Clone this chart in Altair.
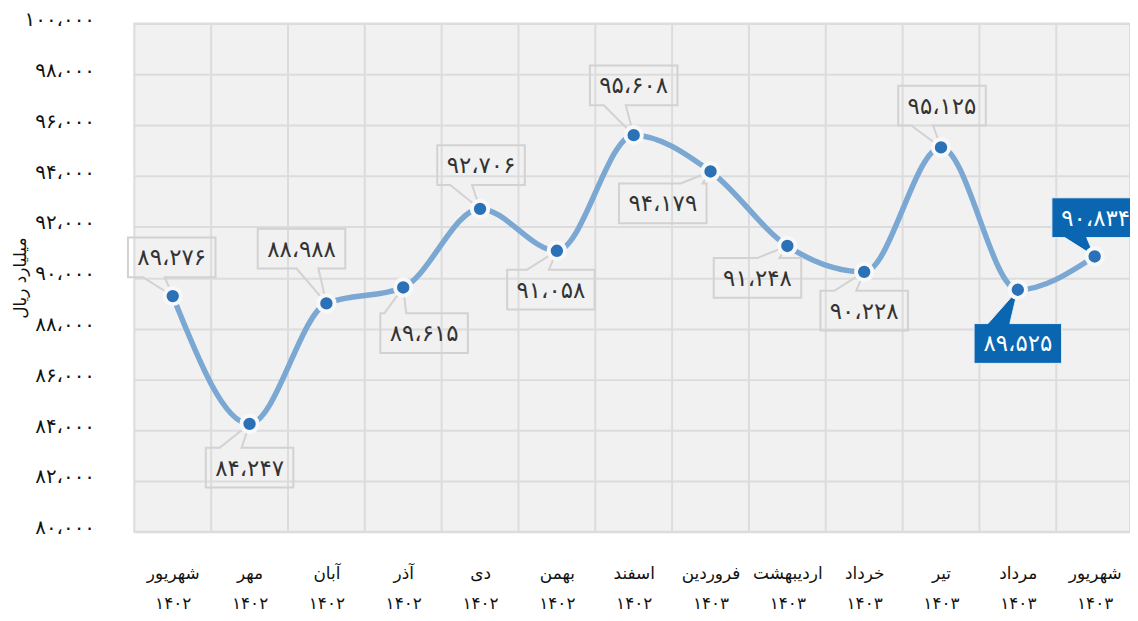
import altair as alt
import pandas as pd

# ---------------- data ----------------
months = ["شهریور", "مهر", "آبان", "آذر", "دی", "بهمن", "اسفند",
          "فروردین", "اردیبهشت", "خرداد", "تیر", "مرداد", "شهریور"]
years = ["۱۴۰۲", "۱۴۰۲", "۱۴۰۲", "۱۴۰۲", "۱۴۰۲", "۱۴۰۲", "۱۴۰۲",
         "۱۴۰۳", "۱۴۰۳", "۱۴۰۳", "۱۴۰۳", "۱۴۰۳", "۱۴۰۳"]
values = [89276, 84247, 88988, 89615, 92706, 91058, 95608,
          94179, 91248, 90228, 95125, 89525, 90834]
highlight = [False] * 11 + [True, True]
y_ticks = list(range(80000, 100001, 2000))

# label-box placement (pixel offset of the box centre from its point)
label_dx = [-1, 0, -25, 21, 1, -6, 0, -48, -30, 0, 1, 0, 1]
label_dy = [-39, 44, -55, 46, -44, 39, -50, 32, 32, 39, -42, 54, -39]

FA = str.maketrans("0123456789", "۰۱۲۳۴۵۶۷۸۹")


def fa_num(v):
    return f"{v:,}".replace(",", "،").translate(FA)


y_tick_labels = [fa_num(v) for v in y_ticks]

# ---------------- geometry ----------------
W, H = 1001, 511
XMIN, XMAX = -0.5, 12.46
YMIN, YMAX = 80000, 100000
pxx = W / (XMAX - XMIN)
pxy = H / (YMAX - YMIN)
BW, BH = 88, 40
FONT = "DejaVu Sans"


def box_path(dx, dy):
    x1, x2 = dx - BW / 2, dx + BW / 2
    y1, y2 = dy - BH / 2, dy + BH / 2
    b1 = max(x1 + 4, -30)
    b2 = b1 + 22
    if dy < 0:
        return f"M{x1},{y1}H{x2}V{y2}H{b2}L0,0L{b1},{y2}H{x1}Z"
    return f"M{x1},{y1}H{b1}L0,0L{b2},{y1}H{x2}V{y2}H{x1}Z"


rows = []
for i, (v, dx, dy, hl) in enumerate(zip(values, label_dx, label_dy, highlight)):
    rows.append({
        "idx": i,
        "value": v,
        "label": fa_num(v),
        "tx": i + dx / pxx,
        "ty": v - (dy + 1) / pxy,
        "path": box_path(dx, dy),
        "hl": hl,
        "tcolor": "#ffffff" if hl else "#333333",
    })
df = pd.DataFrame(rows)
grid_df = pd.DataFrame({"gx": [i - 0.5 for i in range(1, len(months))]})

x_label_expr = "[" + ",".join(f"['{m}','{y}']" for m, y in zip(months, years)) + "][datum.value]"
y_label_expr = "[" + ",".join(f"'{s}'" for s in y_tick_labels) + f"][(datum.value-{YMIN})/2000]"

x_scale = alt.Scale(domain=[XMIN, XMAX], nice=False, zero=False)
y_scale = alt.Scale(domain=[YMIN, YMAX], nice=False, zero=False)

x_axis = alt.Axis(values=list(range(len(months))), labelExpr=x_label_expr, grid=False,
                  domain=False, ticks=False, labelPadding=34, labelLineHeight=30,
                  labelFontSize=17, labelFont=FONT, labelColor="#111111", title=None,
                  labelFlush=False, labelOverlap=False)
y_axis = alt.Axis(values=y_ticks, labelExpr=y_label_expr, grid=True, gridColor="#dcdcdc",
                  gridWidth=2, domain=False, ticks=False, labelPadding=40, labelFontSize=20,
                  labelOffset=-4,
                  labelFont=FONT, labelColor="#111111", title="میلیارد ریال",
                  titleFont=FONT, titleFontSize=17, titleFontWeight="normal",
                  titleColor="#111111", titleX=-114, titleY=H / 2, titleAngle=-90,
                  titleAlign="center", titleBaseline="middle")


def X(field):
    return alt.X(f"{field}:Q", scale=x_scale, axis=x_axis)


def Y(field):
    return alt.Y(f"{field}:Q", scale=y_scale, axis=y_axis)


base = alt.Chart(df)

vgrid = alt.Chart(grid_df).mark_rule(color="#dcdcdc", strokeWidth=2).encode(x=X("gx"))

line = base.mark_line(interpolate="monotone", color="#7ba7d3", strokeWidth=5.5).encode(
    x=X("idx"), y=Y("value"))

boxes_gray = base.transform_filter("!datum.hl").mark_point(
    filled=False, stroke="#d2d2d2", strokeWidth=2, opacity=1).encode(
    x=X("idx"), y=Y("value"), shape=alt.Shape("path:N", scale=None), size=alt.value(4))

boxes_blue = base.transform_filter("datum.hl").mark_point(
    filled=True, fill="#0b66b2", stroke="#e8eef5", strokeWidth=1, opacity=1).encode(
    x=X("idx"), y=Y("value"), shape=alt.Shape("path:N", scale=None), size=alt.value(4))

points = base.mark_point(filled=True, fill="#2b71b8", stroke="#f8f8f8", strokeWidth=4,
                         opacity=1, size=270).encode(x=X("idx"), y=Y("value"))

texts = base.mark_text(font=FONT, fontSize=23, align="center", baseline="middle").encode(
    x=X("tx"), y=Y("ty"), text="label:N", color=alt.Color("tcolor:N", scale=None))

chart = alt.layer(vgrid, line, boxes_gray, boxes_blue, points, texts).properties(
    width=W, height=H,
    autosize=alt.AutoSizeParams(type="none"),
    padding={"left": 127, "top": 14, "right": 0, "bottom": 80},
).configure_view(stroke="#dcdcdc", strokeWidth=2, fill="#f1f1f1")

chart.save("out.html", embed_options={"renderer": "svg", "actions": False})
